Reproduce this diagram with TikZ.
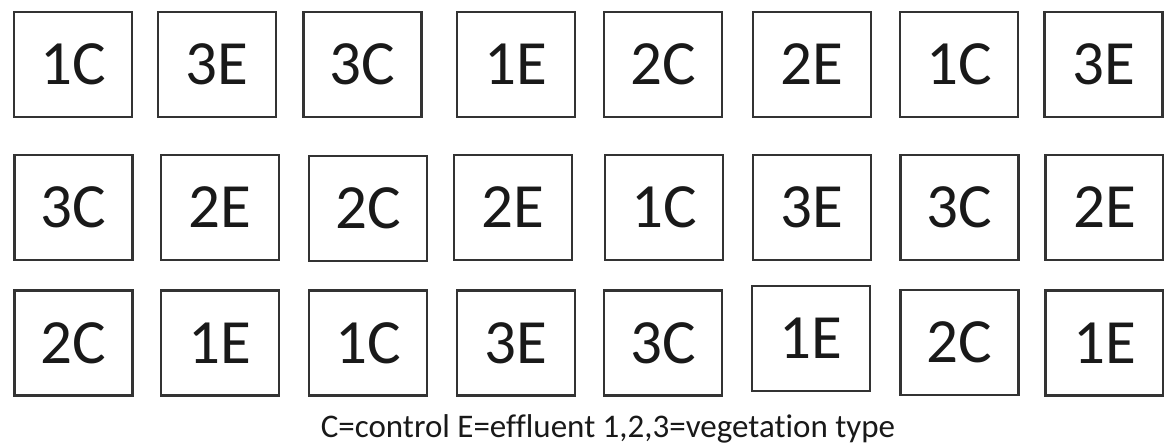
\documentclass[tikz,border=0pt]{standalone}
\usepackage{fontspec}
\setmainfont{Carlito}[Ligatures=NoCommon]
\usepackage{tikz}
\usetikzlibrary{positioning}

\tikzset{
  plotbox/.style={draw=black!80, line width=2.4pt, minimum width=118pt, minimum height=105pt,
                  inner sep=0pt, text=black!90, font=\fontsize{63}{63}\selectfont},
}

\begin{document}
\begin{tikzpicture}[x=1pt, y=-1pt]
  \useasboundingbox (0,0) rectangle (1164,446);

  % row 1
  \node[plotbox] (a1) at (73,64.5) {1C};
  \node[plotbox] (a2) at (217,64.5) {3E};
  \node[plotbox] (a3) at (362.5,64.5) {3C};
  \node[plotbox] (a4) at (516,64.5) {1E};
  \node[plotbox] (a5) at (663,64.5) {2C};
  \node[plotbox] (a6) at (812,64.5) {2E};
  \node[plotbox] (a7) at (959,64.5) {1C};
  \node[plotbox] (a8) at (1103.5,64.5) {3E};

  % row 2
  \node[plotbox] (b1) at (73.5,207.5) {3C};
  \node[plotbox] (b2) at (220,207.5) {2E};
  \node[plotbox] (b3) at (368,208.5) {2C};
  \node[plotbox] (b4) at (513,207.5) {2E};
  \node[plotbox] (b5) at (664,207.5) {1C};
  \node[plotbox] (b6) at (812,207.5) {3E};
  \node[plotbox] (b7) at (959.5,207.5) {3C};
  \node[plotbox] (b8) at (1104.5,207.5) {2E};

  % row 3
  \node[plotbox] (c1) at (73.5,343) {2C};
  \node[plotbox] (c2) at (220,343) {1E};
  \node[plotbox] (c3) at (368,343) {1C};
  \node[plotbox] (c4) at (516,343) {3E};
  \node[plotbox] (c5) at (663,343) {3C};
  \node[plotbox] (c6) at (811,338.5) {1E};
  \node[plotbox] (c7) at (959.5,342.5) {2C};
  \node[plotbox] (c8) at (1104.5,343) {1E};

  \node[anchor=base, text=black!90, font=\fontsize{33}{33}\selectfont] (key) at (608,437)
    {C=control E=effluent 1,2,3=vegetation type};
\end{tikzpicture}
\end{document}
